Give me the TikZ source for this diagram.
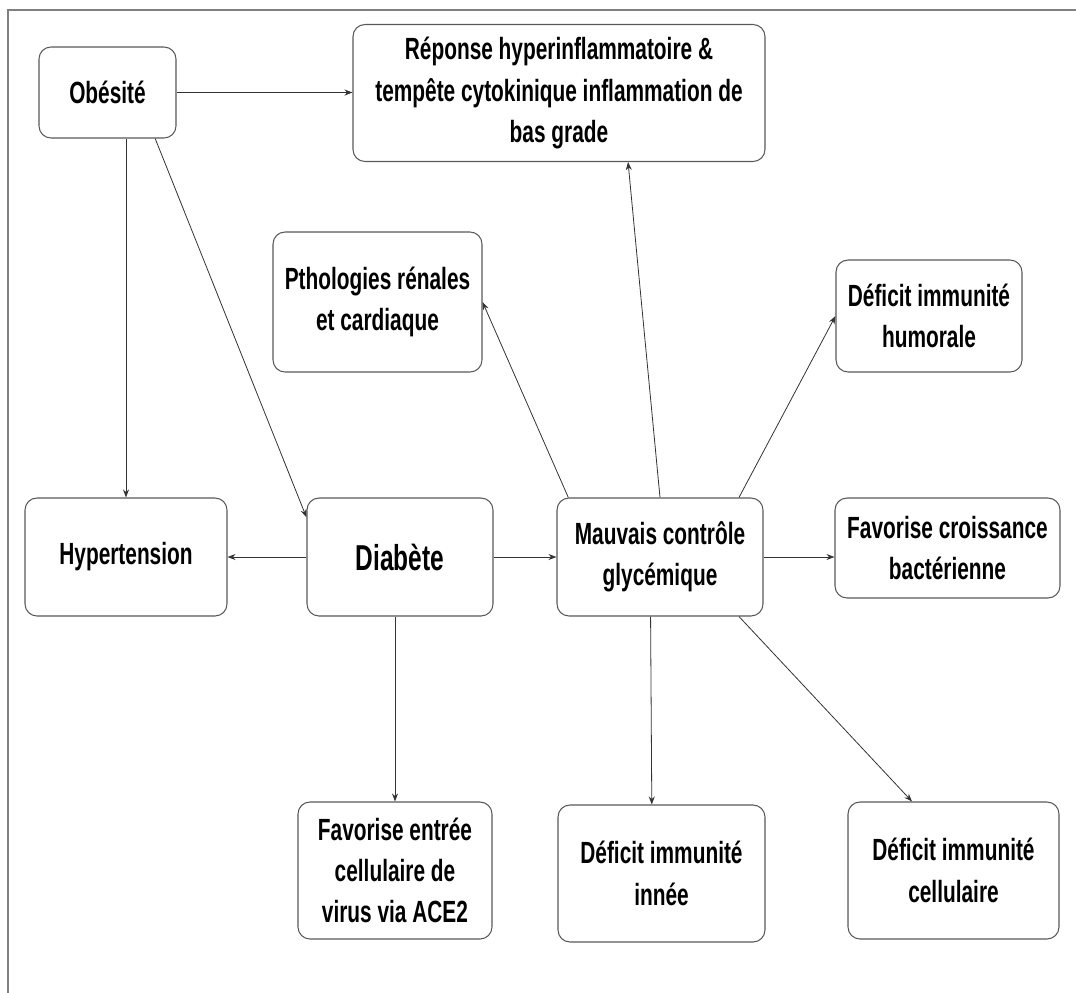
\documentclass[tikz,border=0pt]{standalone}
\usepackage{fontspec}
\setmainfont[FakeStretch=0.68]{Liberation Sans}
\usetikzlibrary{arrows.meta}

\begin{document}
\begin{tikzpicture}[x=0.75pt,y=-0.75pt,
		boite/.style={draw=black!65,line width=0.8pt,rounded corners=9pt,fill=white,align=center,inner sep=2pt,font=\bfseries\fontsize{23}{31}\selectfont},
		fleche/.style={draw=black!80,line width=0.6pt,-{Stealth[length=6pt,width=4.5pt]}}]
		\useasboundingbox (0,0) rectangle (1076,993);
		\draw[gray,line width=1.2pt] (8,993) -- (8,10) -- (1076,10);
		% boites
		\node[boite,minimum width=102.75pt,minimum height=68.25pt] (obesite) at (107.5,92.5) {Obésité};
		\node[boite,minimum width=309pt,minimum height=102.75pt] (reponse) at (559,93) {Réponse hyperinflammatoire \&\\tempête cytokinique inflammation de\\bas grade};
		\node[boite,minimum width=156.75pt,minimum height=105pt] (patho) at (377.5,302) {Pthologies rénales\\et cardiaque};
		\node[boite,minimum width=139.5pt,minimum height=84pt] (humorale) at (929,316) {Déficit immunité\\humorale};
		\node[boite,minimum width=151.5pt,minimum height=88.5pt] (hypert) at (126,557) {Hypertension};
		\node[boite,minimum width=139.5pt,minimum height=88.5pt,font=\bfseries\fontsize{27}{31}\selectfont] (diabete) at (400,557) {Diabète};
		\node[boite,minimum width=154.5pt,minimum height=88.5pt] (mauvais) at (660,557) {Mauvais contrôle\\glycémique};
		\node[boite,minimum width=168.75pt,minimum height=75pt] (croissance) at (947.5,548) {Favorise croissance\\bactérienne};
		\node[boite,minimum width=145.5pt,minimum height=102.75pt] (entree) at (395,870.5) {Favorise entrée\\cellulaire de\\virus via ACE2};
		\node[boite,minimum width=155.25pt,minimum height=102.75pt] (innee) at (661.5,873.5) {Déficit immunité\\innée};
		\node[boite,minimum width=158.25pt,minimum height=102.75pt] (cellulaire) at (953.5,870.5) {Déficit immunité\\cellulaire};
		% fleches
		\draw[fleche] (obesite.east) -- (reponse.west |- obesite.east);
		\draw[fleche] (obesite.south -| hypert.north) -- (hypert.north);
		\draw[fleche] (obesite.-44) -- (diabete.157);
		\draw[fleche] (diabete.west) -- (hypert.east);
		\draw[fleche] (diabete.east) -- (mauvais.west);
		\draw[fleche] (diabete.south -| entree.north) -- (entree.north);
		\draw[fleche] (mauvais.147) -- (patho.east);
		\draw[fleche] (mauvais.north) -- (reponse.-45);
		\draw[fleche] (mauvais.37) -- (humorale.west);
		\draw[fleche] (mauvais.east) -- (mauvais.east -| croissance.west);
		\draw[fleche] (mauvais.-99) -- (innee.98);
		\draw[fleche] (mauvais.-37) -- (cellulaire.121);
\end{tikzpicture}
\end{document}
